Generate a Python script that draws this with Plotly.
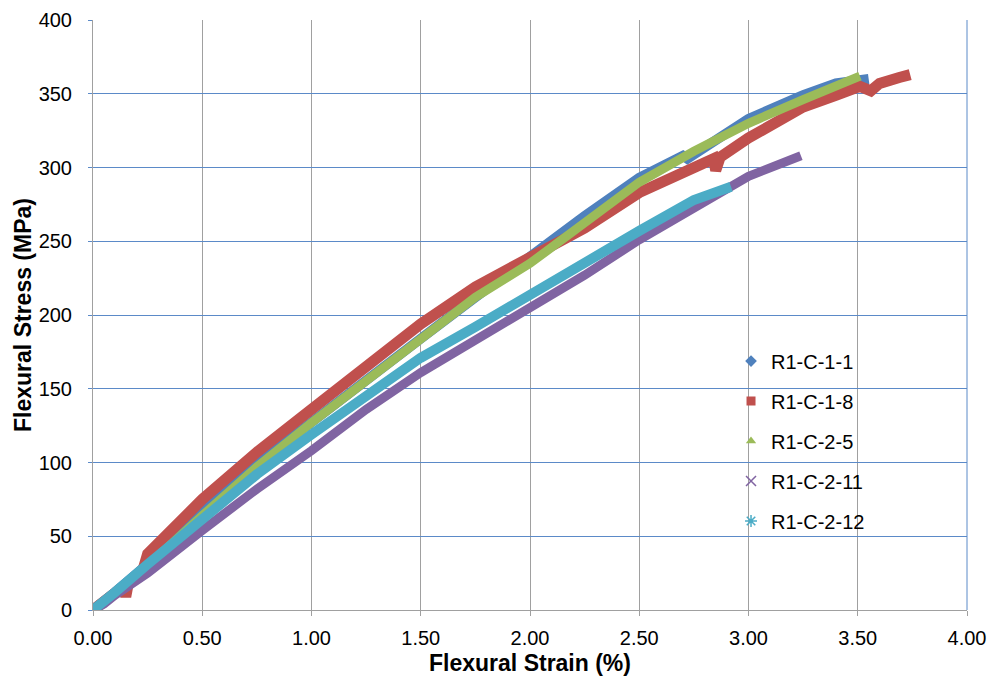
import plotly.graph_objects as go

# ---- data (strain %, stress MPa) ----
names = ["R1-C-1-1", "R1-C-1-8", "R1-C-2-5", "R1-C-2-11", "R1-C-2-12"]

s11_x = [0.0, 0.05, 0.10, 0.25, 0.50, 0.75, 1.00, 1.25, 1.50, 1.75, 2.00, 2.25, 2.50, 2.68, 2.70, 2.72, 3.00, 3.25, 3.40, 3.55]
s11_y = [0, 5, 12, 31, 67, 99, 128, 156, 184, 212, 240, 267, 293, 305, 308, 306, 333, 349, 357, 360]

s18_x = [0.0, 0.05, 0.10, 0.14, 0.15, 0.16, 0.23, 0.25, 0.50, 0.75, 1.00, 1.25, 1.50, 1.75, 2.00, 2.25, 2.50, 2.75, 2.84, 2.85, 2.87, 3.00, 3.25, 3.40, 3.51, 3.56, 3.60, 3.69, 3.74]
s18_y = [0, 6, 13, 16, 9, 17, 28, 38, 75, 107, 136, 166, 194, 219, 238, 259, 283, 301, 306, 298, 307, 320, 341, 349, 355, 352, 357, 361, 363]

s25_x = [0.0, 0.05, 0.10, 0.25, 0.50, 0.75, 1.00, 1.25, 1.50, 1.75, 2.00, 2.25, 2.50, 2.75, 3.00, 3.25, 3.40, 3.51]
s25_y = [0, 5, 12, 30, 64, 97, 127, 155, 183, 212, 235, 262, 290, 311, 330, 346, 355, 362]

s211_x = [0.0, 0.05, 0.10, 0.25, 0.50, 0.75, 1.00, 1.25, 1.50, 1.75, 2.00, 2.25, 2.50, 2.75, 3.00, 3.24]
s211_y = [0, 4, 10, 25, 54, 82, 108, 136, 161, 183, 204, 227, 251, 272, 294, 308]

s212_x = [0.0, 0.05, 0.10, 0.25, 0.50, 0.75, 1.00, 1.25, 1.50, 1.75, 2.00, 2.23, 2.50, 2.75, 2.92]
s212_y = [0, 5, 12, 31, 61, 92, 119, 146, 171, 192, 214, 235, 257, 278, 287]

colors = ["#4F81BD", "#C0504D", "#9BBB59", "#8064A2", "#4BACC6"]
symbols = ["diamond", "square", "triangle-up", "x-thin", "asterisk"]
widths = [10, 11, 9, 9, 10]

series = [(s11_x, s11_y), (s18_x, s18_y), (s25_x, s25_y), (s211_x, s211_y), (s212_x, s212_y)]

x_ticks = [0, 0.5, 1.0, 1.5, 2.0, 2.5, 3.0, 3.5, 4.0]
y_ticks = [0, 50, 100, 150, 200, 250, 300, 350, 400]

fig = go.Figure()
for (xs, ys), c, w, n in zip(series, colors, widths, names):
    fig.add_trace(go.Scatter(x=xs, y=ys, mode="lines", line=dict(color=c, width=w),
                             showlegend=False, hoverinfo="skip", name=n))

for n, c, sym in zip(names, colors, symbols):
    mk = dict(color=c, symbol=sym, size=9)
    if sym in ("x-thin", "asterisk"):
        mk["line"] = dict(color=c, width=1.5)
        mk["size"] = 10
    fig.add_trace(go.Scatter(x=[None], y=[None], mode="markers", marker=mk, name=n,
                             legendgroup=n, showlegend=True))

font_main = "Liberation Sans, Arial, sans-serif"
fig.update_layout(
    width=992, height=676,
    margin=dict(l=93, r=25, t=20, b=66),
    paper_bgcolor="white", plot_bgcolor="white",
    font=dict(family=font_main, size=20, color="#000000"),
    legend=dict(x=0.730, y=0.455, xanchor="left", yanchor="top",
                bgcolor="rgba(0,0,0,0)", font=dict(size=20, color="#000000"),
                tracegroupgap=11, itemwidth=30),
    showlegend=True,
)
fig.update_xaxes(
    range=[0, 4.0], tickvals=x_ticks, tickformat=".2f", automargin=False,
    showgrid=True, gridcolor="#A0A0A0", gridwidth=1,
    showline=True, linecolor="#A0A0A0", linewidth=1,
    zeroline=False, ticks="outside", ticklen=5, tickcolor="#A0A0A0",
    ticklabelstandoff=5,
    title=dict(text="<b>Flexural Strain (%)</b>", font=dict(size=23), standoff=6),
)
fig.update_yaxes(
    range=[0, 400], tickvals=y_ticks, automargin=False,
    showgrid=True, gridcolor="#5B8AC8", gridwidth=1,
    showline=True, linecolor="#A0A0A0", linewidth=1,
    zeroline=False, ticks="outside", ticklen=4, tickcolor="#5B8AC8",
    ticklabelstandoff=12,
    title=dict(text="<b>Flexural Stress (MPa)</b>", font=dict(size=23), standoff=0),
)
fig.add_shape(type="line", xref="paper", yref="paper", x0=1, x1=1, y0=0, y1=1,
              line=dict(color="#5B8AC8", width=1))

fig.write_html("out.html", config={"displayModeBar": False},
               post_script="document.body.style.margin='0';")
